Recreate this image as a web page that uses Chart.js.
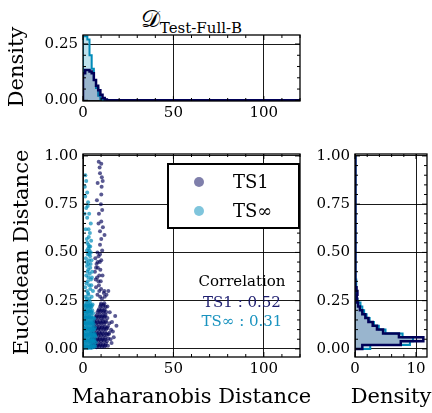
<!DOCTYPE html>
<html>
<head>
<meta charset="utf-8">
<script src="https://cdn.jsdelivr.net/npm/chart.js@4.4.0/dist/chart.umd.min.js"></script>
<style>
  body { margin: 0; background: #fff; }
  #wrap { position: relative; width: 432px; height: 413px; overflow: hidden; font-family: "DejaVu Serif", serif; color: #000; }
  canvas { position: absolute; }
  #title { position: absolute; left: 91px; width: 201px; top: 3px; text-align: center; line-height: 32px; white-space: nowrap; }
  #title .cal { font-size: 24px; }
  #title .sub { font-size: 15px; position: relative; top: 6px; font-family: "DejaVu Serif", serif; }
  #legend { position: absolute; left: 167px; top: 163px; width: 133px; height: 66px; box-sizing: border-box; border: 2.5px solid #000; background: #fff; }
  #legend .dot { position: absolute; width: 10px; height: 10px; border-radius: 50%; left: 25px; }
  #legend .lab { position: absolute; left: 64px; font-size: 18px; line-height: 22px; }
  .corr { position: absolute; left: 182px; width: 120px; text-align: center; font-size: 15px; line-height: 20px; }
</style>
</head>
<body>
<div id="wrap">
  <div id="title"><span class="cal">𝒟</span><span class="sub">Test-Full-B</span></div>
  <canvas id="topHist" width="320" height="128" style="left:0;top:0"></canvas>
  <canvas id="scatter" width="320" height="273" style="left:0;top:140px"></canvas>
  <canvas id="sideHist" width="132" height="273" style="left:300px;top:140px"></canvas>
  <div id="legend">
    <span class="dot" style="top:12px;background:rgba(0,0,87,0.5)"></span><span class="lab" style="top:6px">TS1</span>
    <span class="dot" style="top:41px;background:rgba(0,139,185,0.5)"></span><span class="lab" style="top:35px">TS∞</span>
  </div>
  <div class="corr" style="top:271px">Correlation</div>
  <div class="corr" style="top:292px;color:#1c1c6e">TS1 : 0.52</div>
  <div class="corr" style="top:311px;color:#1a93bf">TS∞ : 0.31</div>
</div>
<script>
const serif = '"DejaVu Serif", serif';
Chart.defaults.font.family = serif;
const navy = '#000057';
const cyan = '#008bb9';

// top histogram: Maharanobis distance density, bins of 1.2 from 0
const topBinWidth = 1.2;
const mahaMax = 120;
const topTS1 = [0.12, 0.135, 0.135, 0.128, 0.12, 0.09, 0.065, 0.045, 0.025, 0.01, 0.004, 0];
const topTSInf = [0.285, 0.285, 0.27, 0.2, 0.14, 0.09, 0.055, 0.02, 0.005, 0, 0, 0];

// side histogram: Euclidean distance density, bins of 0.02 from 0 to 1
const sideBinWidth = 0.02;
const sideTS1 = [1.2, 7.5, 11.2, 7.2, 4.6, 3.6, 2.9, 2.2, 1.7, 1.2, 0.8, 0.5, 0.35, 0.3, 0.4, 0.25,
  0.15, 0.12, 0.1, 0.1, 0.08, 0.08, 0.08, 0.08, 0.08, 0.06, 0.06, 0.06, 0.06, 0.06,
  0.05, 0.05, 0.05, 0.05, 0.05, 0.04, 0.04, 0.04, 0.04, 0.04, 0.04, 0.04, 0.04, 0.04, 0.04,
  0.03, 0.03, 0.03, 0.03, 0.03];
const sideTSInf = [2.5, 9.0, 9.5, 7.8, 5.0, 3.9, 3.1, 2.4, 1.9, 1.5, 1.2, 0.9, 0.4, 0.25, 0.2, 0.2,
  0.2, 0.2, 0.15, 0.15, 0.15, 0.15, 0.15, 0.15, 0.15, 0.12, 0.12, 0.12, 0.12, 0.12,
  0.1, 0.1, 0.1, 0.1, 0.1, 0.08, 0.08, 0.08, 0.08, 0.08, 0.05, 0.05, 0.05, 0.05, 0.05,
  0.03, 0.03, 0.03, 0.03, 0.03];

// scatter points [maharanobis, euclidean]
const ts1Points = [
  [4.5,0.01],[6.0,0.012],[7.5,0.008],[9.0,0.011],[10.5,0.01],[12.0,0.013],
  [4.9,0.0175],[6.4,0.018],[7.9,0.017],[9.4,0.019],[10.9,0.0175],[12.4,0.018],[13.8,0.016],
  [5.2,0.025],[6.7,0.027],[8.2,0.024],[9.7,0.026],[11.2,0.025],[12.7,0.028],
  [4.0,0.04],[5.5,0.042],[7.0,0.039],[8.5,0.041],[10.0,0.04],[11.5,0.043],[13.2,0.04],
  [4.6,0.0475],[6.2,0.048],[7.7,0.047],[9.2,0.049],[10.7,0.0475],[12.3,0.048],
  [4.8,0.055],[6.3,0.057],[7.8,0.054],[9.3,0.056],[10.8,0.055],[12.4,0.058],[14.0,0.054],
  [5.5,0.07],[7.0,0.072],[8.5,0.069],[10.0,0.071],[11.6,0.07],[13.3,0.073],
  [5.0,0.0775],[6.5,0.078],[8.0,0.077],[9.6,0.079],[11.1,0.0775],[12.8,0.078],[14.2,0.076],
  [4.5,0.085],[6.0,0.087],[7.5,0.084],[9.0,0.086],[10.5,0.085],[12.2,0.088],[14.5,0.084],
  [5.3,0.1],[6.8,0.102],[8.3,0.099],[9.8,0.101],[11.4,0.1],[13.0,0.103],[15.5,0.099],
  [5.8,0.1075],[7.3,0.108],[8.8,0.107],[10.3,0.109],[11.9,0.1075],[13.4,0.108],
  [6.0,0.115],[7.5,0.117],[9.0,0.114],[10.5,0.116],[12.0,0.115],[13.8,0.118],
  [5.5,0.13],[7.0,0.132],[8.6,0.129],[10.2,0.131],[11.8,0.13],[14.6,0.133],
  [6.4,0.1375],[8.0,0.138],[9.6,0.137],[11.2,0.139],[12.6,0.1375],
  [6.2,0.145],[7.8,0.147],[9.4,0.144],[11.0,0.146],[12.8,0.145],
  [7.0,0.16],[8.6,0.162],[10.2,0.159],[11.8,0.161],[13.5,0.16],
  [7.3,0.1675],[8.9,0.168],[10.5,0.167],[12.1,0.169],
  [7.5,0.175],[9.2,0.177],[10.8,0.174],[12.5,0.176],
  [8.0,0.19],[9.6,0.192],[11.3,0.189],[12.9,0.191],
  [8.5,0.1975],[10.1,0.198],[11.7,0.197],
  [8.8,0.205],[10.4,0.207],[12.0,0.204],
  [9.5,0.22],[11.2,0.222],[12.6,0.219],
  [9.8,0.228],[11.4,0.229],
  [10.0,0.235],[11.8,0.237],
  [16.5,0.09],[17.8,0.17],[15.2,0.05],[16.0,0.14],[14.8,0.19],[13.5,0.22],[18.5,0.12],[15.8,0.03],[17.0,0.06],
  [10.5,0.26],[12.0,0.27],[11.5,0.29],[13.0,0.28],[14.0,0.30],[11.8,0.30],[9.5,0.27],[8.0,0.28],[10.0,0.31],
  [8.8,0.33],[7.2,0.32],[9.8,0.35],[8.5,0.35],[7.0,0.36],[9.0,0.38],[10.8,0.38],[6.6,0.40],[8.2,0.42],
  [7.5,0.44],[9.3,0.45],[8.1,0.45],[10.1,0.46],[7.2,0.42],[6.8,0.47],[9.4,0.49],[10.6,0.51],[8.0,0.50],
  [9.0,0.30],[7.8,0.37],[9.6,0.41],[8.6,0.48],
  [8.7,0.97],[10.1,0.96],[9.2,0.94],[9.4,0.91],[10.9,0.87],[8.1,0.86],[10.3,0.84],[10.1,0.80],[7.7,0.77],
  [10.6,0.72],[8.8,0.70],[10.1,0.66],[8.6,0.65],[9.4,0.61],[11.9,0.59],[10.1,0.57],[9.4,0.54],[11.0,0.63],
  [9.9,0.75],[10.4,0.89]
];
const tsInfPoints = [
  [0.5,0.005],[1.5,0.007],[2.6,0.004],[3.4,0.006],[4.6,0.005],[5.8,0.008],
  [0.9,0.0125],[2.0,0.013],[3.0,0.012],[4.1,0.014],[5.2,0.0125],[6.6,0.012],
  [0.3,0.02],[1.1,0.022],[2.0,0.019],[3.1,0.021],[4.0,0.02],[5.2,0.023],[6.4,0.019],
  [0.8,0.035],[1.7,0.037],[2.5,0.034],[3.6,0.036],[4.5,0.035],[5.6,0.038],[7.0,0.034],
  [0.4,0.0425],[1.2,0.043],[2.1,0.042],[3.1,0.044],[4.0,0.0425],[5.0,0.043],[6.0,0.041],
  [0.4,0.05],[1.3,0.052],[2.2,0.049],[3.0,0.051],[4.2,0.05],[5.1,0.053],[6.2,0.049],
  [0.9,0.065],[1.8,0.067],[2.7,0.064],[3.5,0.066],[4.7,0.065],[5.8,0.068],[6.9,0.064],
  [0.7,0.0725],[1.6,0.073],[2.5,0.072],[3.4,0.074],[4.4,0.0725],[5.5,0.073],[6.6,0.071],
  [0.5,0.08],[1.4,0.082],[2.3,0.079],[3.2,0.081],[4.1,0.08],[5.3,0.083],[6.4,0.079],
  [1.0,0.095],[1.9,0.097],[2.8,0.094],[3.7,0.096],[4.6,0.095],[5.7,0.098],
  [0.4,0.1025],[1.3,0.103],[2.3,0.102],[3.2,0.104],[4.1,0.1025],[5.0,0.103],[6.1,0.101],
  [0.6,0.11],[1.5,0.112],[2.4,0.109],[3.3,0.111],[4.3,0.11],[5.2,0.113],[6.6,0.109],
  [1.1,0.125],[2.0,0.127],[2.9,0.124],[3.8,0.126],[4.8,0.125],[5.9,0.128],
  [0.6,0.1325],[1.5,0.133],[2.4,0.132],[3.3,0.134],[4.3,0.1325],[5.3,0.133],
  [0.7,0.14],[1.6,0.142],[2.5,0.139],[3.5,0.141],[4.4,0.14],[5.5,0.143],
  [1.2,0.155],[2.1,0.157],[3.0,0.154],[4.0,0.156],[5.0,0.155],[6.2,0.158],
  [0.7,0.1625],[1.6,0.163],[2.5,0.162],[3.5,0.164],[4.5,0.1625],[5.6,0.163],
  [0.8,0.17],[1.8,0.172],[2.7,0.169],[3.6,0.171],[4.7,0.17],
  [1.4,0.185],[2.4,0.187],[3.3,0.184],[4.5,0.186],[5.6,0.185],
  [0.6,0.1925],[1.5,0.193],[2.5,0.192],[3.5,0.194],[4.6,0.1925],
  [1.0,0.2],[2.0,0.202],[2.9,0.199],[3.9,0.201],[5.1,0.2],
  [1.5,0.215],[2.5,0.217],[3.4,0.214],[4.4,0.216],
  [0.7,0.2225],[1.9,0.223],[2.9,0.222],[3.9,0.224],[4.9,0.2225],
  [1.1,0.23],[2.2,0.232],[3.1,0.229],[4.1,0.231],[5.3,0.23],
  [1.7,0.245],[2.7,0.247],[3.8,0.244],
  [1.5,0.27],[3.0,0.28],[4.8,0.27],[2.2,0.30],[4.0,0.31],[1.2,0.32],[3.4,0.33],[5.5,0.30],[2.6,0.35],
  [4.4,0.36],[1.8,0.38],[3.7,0.39],[2.9,0.41],[5.0,0.40],[2.2,0.43],[4.2,0.44],[3.3,0.46],[1.6,0.47],
  [3.9,0.48],[2.6,0.49],[3.1,0.50],[3.6,0.51],[2.9,0.52],[4.3,0.50],[3.4,0.53],[2.3,0.55],
  [2.0,0.26],[3.6,0.26],[2.8,0.29],[4.6,0.33],[1.9,0.34],[3.0,0.37],[4.9,0.37],[2.5,0.40],
  [4.0,0.42],[3.0,0.44],[2.0,0.45],[4.7,0.46],[3.5,0.49],[2.2,0.51],[4.0,0.53],[3.0,0.54],
  [1.3,0.90],[1.8,0.87],[1.0,0.84],[2.3,0.81],[1.2,0.79],[2.8,0.76],[1.8,0.73],[3.4,0.70],[2.3,0.68],
  [4.3,0.65],[3.1,0.62],[3.8,0.60],[2.1,0.57],[3.2,0.58],[4.5,0.56],[1.5,0.62],[2.6,0.74],[0.9,0.70]
];

function edges(width, n) {
  const e = [];
  for (let i = 0; i <= n; i++) e.push(+(i * width).toFixed(4));
  return e;
}
function stepsUp(dens, width, xEnd) {
  const e = edges(width, dens.length);
  const pts = [{x: 0, y: 0}];
  dens.forEach((d, i) => { pts.push({x: e[i], y: d}, {x: e[i + 1], y: d}); });
  pts.push({x: e[e.length - 1], y: 0}, {x: xEnd, y: 0});
  return pts;
}
function stepsSide(dens, width) {
  const e = edges(width, dens.length);
  const pts = [{x: 0, y: 0}];
  dens.forEach((d, i) => { pts.push({x: d, y: e[i]}, {x: d, y: e[i + 1]}); });
  pts.push({x: 0, y: e[e.length - 1]});
  return pts;
}

// frame, inward ticks and axis titles (drawn without Chart.js squeezing them to the axis length)
const frame = {
  id: 'frame',
  afterDraw(chart, args, o) {
    const {ctx, chartArea: a, scales: {x, y}} = chart;
    ctx.save();
    ctx.strokeStyle = '#000';
    ctx.lineWidth = 1;
    const walk = (scale, minor, major, fn) => {
      for (let k = Math.ceil(scale.min / minor - 1e-9); k * minor <= scale.max + 1e-9; k++) {
        const v = k * minor;
        const isMajor = Math.abs(v / major - Math.round(v / major)) < 1e-6;
        fn(scale.getPixelForValue(v), isMajor ? 5 : 3);
      }
    };
    ctx.beginPath();
    walk(x, o.xMinor, o.xMajor, (p, l) => {
      ctx.moveTo(p, a.bottom); ctx.lineTo(p, a.bottom - l);
      ctx.moveTo(p, a.top); ctx.lineTo(p, a.top + l);
    });
    walk(y, o.yMinor, o.yMajor, (p, l) => {
      ctx.moveTo(a.left, p); ctx.lineTo(a.left + l, p);
      ctx.moveTo(a.right, p); ctx.lineTo(a.right - l, p);
    });
    ctx.stroke();
    ctx.lineWidth = 1.3;
    ctx.strokeRect(a.left, a.top, a.width, a.height);

    ctx.fillStyle = '#000';
    ctx.font = '21px ' + serif;
    ctx.textAlign = 'center';
    ctx.textBaseline = 'alphabetic';
    if (o.xTitle) ctx.fillText(o.xTitle, (a.left + a.right) / 2, a.bottom + o.xGap);
    if (o.yTitle) {
      ctx.translate(a.left - o.yGap, (a.top + a.bottom) / 2 + (o.yShift || 0));
      ctx.rotate(-Math.PI / 2);
      ctx.fillText(o.yTitle, 0, 0);
    }
    ctx.restore();
  }
};

function linAxis(min, max, step, fmt, size, pos) {
  return {
    type: 'linear', min, max, position: pos,
    ticks: {stepSize: step, includeBounds: false, color: '#000', padding: pos === 'left' ? 5 : 3,
      font: {family: serif, size: 15}, maxRotation: 0, autoSkip: false, callback: fmt},
    grid: {color: '#000', lineWidth: 0.9, drawTicks: false},
    border: {display: false},
    afterFit(s) { if (pos === 'left') s.width = size; else s.height = size; }
  };
}

const common = {
  responsive: false,
  animation: false,
  devicePixelRatio: 1,
  plugins: {legend: {display: false}, tooltip: {enabled: false}},
};

const fmt0 = v => v.toFixed(0);
const fmt2 = v => v.toFixed(2);

new Chart(document.getElementById('topHist'), {
  type: 'scatter',
  data: {
    datasets: [
      {data: stepsUp(topTS1, topBinWidth, mahaMax), showLine: true, pointRadius: 0, borderColor: navy,
        borderWidth: 2.5, backgroundColor: 'rgba(0,0,87,0.2)', fill: 'shape', order: 0, borderJoinStyle: 'miter'},
      {data: stepsUp(topTSInf, topBinWidth, mahaMax), showLine: true, pointRadius: 0, borderColor: cyan,
        borderWidth: 2, backgroundColor: 'rgba(0,139,185,0.25)', fill: 'shape', order: 1, borderJoinStyle: 'miter'}
    ]
  },
  options: Object.assign({}, common, {
    layout: {padding: {top: 35, right: 20, left: 0, bottom: 0}},
    plugins: Object.assign({}, common.plugins, {frame: {xMinor: 10, xMajor: 50, yMinor: 0.05, yMajor: 0.25,
      yTitle: 'Density', yGap: 60.5, yShift: -1}}),
    scales: {
      x: linAxis(0, mahaMax, 50, fmt0, 27, 'bottom'),
      y: linAxis(-0.003, 0.29, 0.25, fmt2, 83, 'left')
    }
  }),
  plugins: [frame]
});

new Chart(document.getElementById('scatter'), {
  type: 'scatter',
  data: {
    datasets: [
      {label: 'TS1', data: ts1Points.map(([x, y]) => ({x, y})), pointRadius: 2, borderWidth: 0,
        backgroundColor: 'rgba(0,0,87,0.65)', order: 1},
      {label: 'TS∞', data: tsInfPoints.map(([x, y]) => ({x, y})), pointRadius: 2, borderWidth: 0,
        backgroundColor: 'rgba(0,139,185,0.7)', order: 0}
    ]
  },
  options: Object.assign({}, common, {
    layout: {padding: {top: 14, right: 20, left: 0, bottom: 0}},
    plugins: Object.assign({}, common.plugins, {frame: {xMinor: 10, xMajor: 50, yMinor: 0.05, yMajor: 0.25,
      xTitle: 'Maharanobis Distance', xGap: 46, yTitle: 'Euclidean Distance', yGap: 55, yShift: -3}}),
    scales: {
      x: linAxis(0, mahaMax, 50, fmt0, 56, 'bottom'),
      y: linAxis(-0.042, 1.01, 0.25, fmt2, 83, 'left')
    }
  }),
  plugins: [frame]
});

new Chart(document.getElementById('sideHist'), {
  type: 'scatter',
  data: {
    datasets: [
      {data: stepsSide(sideTS1, sideBinWidth), showLine: true, pointRadius: 0, borderColor: navy,
        borderWidth: 2.5, backgroundColor: 'rgba(0,0,87,0.2)', fill: 'shape', order: 0, borderJoinStyle: 'miter'},
      {data: stepsSide(sideTSInf, sideBinWidth), showLine: true, pointRadius: 0, borderColor: cyan,
        borderWidth: 2, backgroundColor: 'rgba(0,139,185,0.25)', fill: 'shape', order: 1, borderJoinStyle: 'miter'}
    ]
  },
  options: Object.assign({}, common, {
    layout: {padding: {top: 14, right: 5, left: 0, bottom: 0}},
    plugins: Object.assign({}, common.plugins, {frame: {xMinor: 2, xMajor: 10, yMinor: 0.05, yMajor: 0.25,
      xTitle: 'Density', xGap: 46}}),
    scales: {
      x: linAxis(0, 11.8, 10, fmt0, 56, 'bottom'),
      y: linAxis(-0.042, 1.01, 0.25, fmt2, 55, 'left')
    }
  }),
  plugins: [frame]
});
</script>
</body>
</html>
